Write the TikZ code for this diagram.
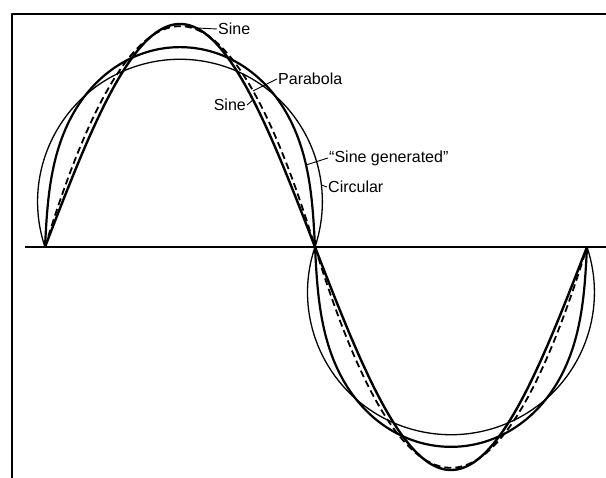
\documentclass[tikz,border=0pt]{standalone}
\usepackage{fontspec}
\setmainfont{Liberation Sans}
\tikzset{
  sinecurve/.style={line width=2.4pt},
  parcurve/.style={line width=1.8pt, dash pattern=on 7pt off 4pt},
  gencurve/.style={line width=2.2pt},
  circcurve/.style={line width=1.3pt},
  leader/.style={line width=0.9pt},
  lbl/.style={font=\fontsize{16}{18}\selectfont, inner sep=1pt}
}

\begin{document}
\begin{tikzpicture}[x=1pt,y=1pt,line join=round]
  \useasboundingbox[fill=white] (-45,-231) rectangle (561,247);

  %-------------------------
  % frame and axis
  %-------------------------
  \draw[line width=1.8pt] (-33.3,-231) -- (-33.3,233) -- (561,233);
  \draw[line width=2pt] (-20,0) -- (561,0);

  %-------------------------
  % the four curves, upper and lower half wave
  %-------------------------
  \foreach \sx/\sy/\sc in {0/1/1,270/-1/1.0074}{
    \begin{scope}[xshift=\sx pt, yscale=\sy, xscale=\sc]
      \draw[circcurve] (0,0) arc[start angle=198.55, end angle=-18.55, radius=142.4];
      \draw[gencurve] plot[domain=0:180, samples=90, smooth, variable=\t]
        ({1.5*\t-40.7*sin(2*\t)+1.062*sin(4*\t)}, {192.5*sin(\t)-7.232*sin(3*\t)+0.132*sin(5*\t)});
      \draw[parcurve] plot[domain=0:270, samples=90, smooth] (\x, {0.01211*\x*(270-\x)});
      \draw[sinecurve] plot[domain=0:270, samples=90, smooth] (\x, {223*sin(\x/1.5)});
    \end{scope}
  }

  %-------------------------
  % labels
  %-------------------------
  \node[lbl, anchor=west] (sinetop) at (172,218) {Sine};
  \node[lbl, anchor=west] (parab) at (232,168) {Parabola};
  \node[lbl, anchor=east] (sinelow) at (202,142) {Sine};
  \node[lbl, anchor=west] (sinegen) at (283,89) {``Sine generated''};
  \node[lbl, anchor=west] (circ) at (282,60) {Circular};

  \coordinate (ptop) at (152,219);
  \coordinate (ppar) at (208,156);
  \coordinate (plow) at (208,147);
  \coordinate (pgen) at (261,82);
  \coordinate (pcirc) at (276.4,62);

  \draw[leader] (ptop) -- (sinetop.west);
  \draw[leader] (ppar) -- (parab.west);
  \draw[leader] (plow) -- (sinelow.east);
  \draw[leader] (pgen) -- (sinegen.west);
  \draw[leader] (pcirc) -- (circ.west);
\end{tikzpicture}
\end{document}
